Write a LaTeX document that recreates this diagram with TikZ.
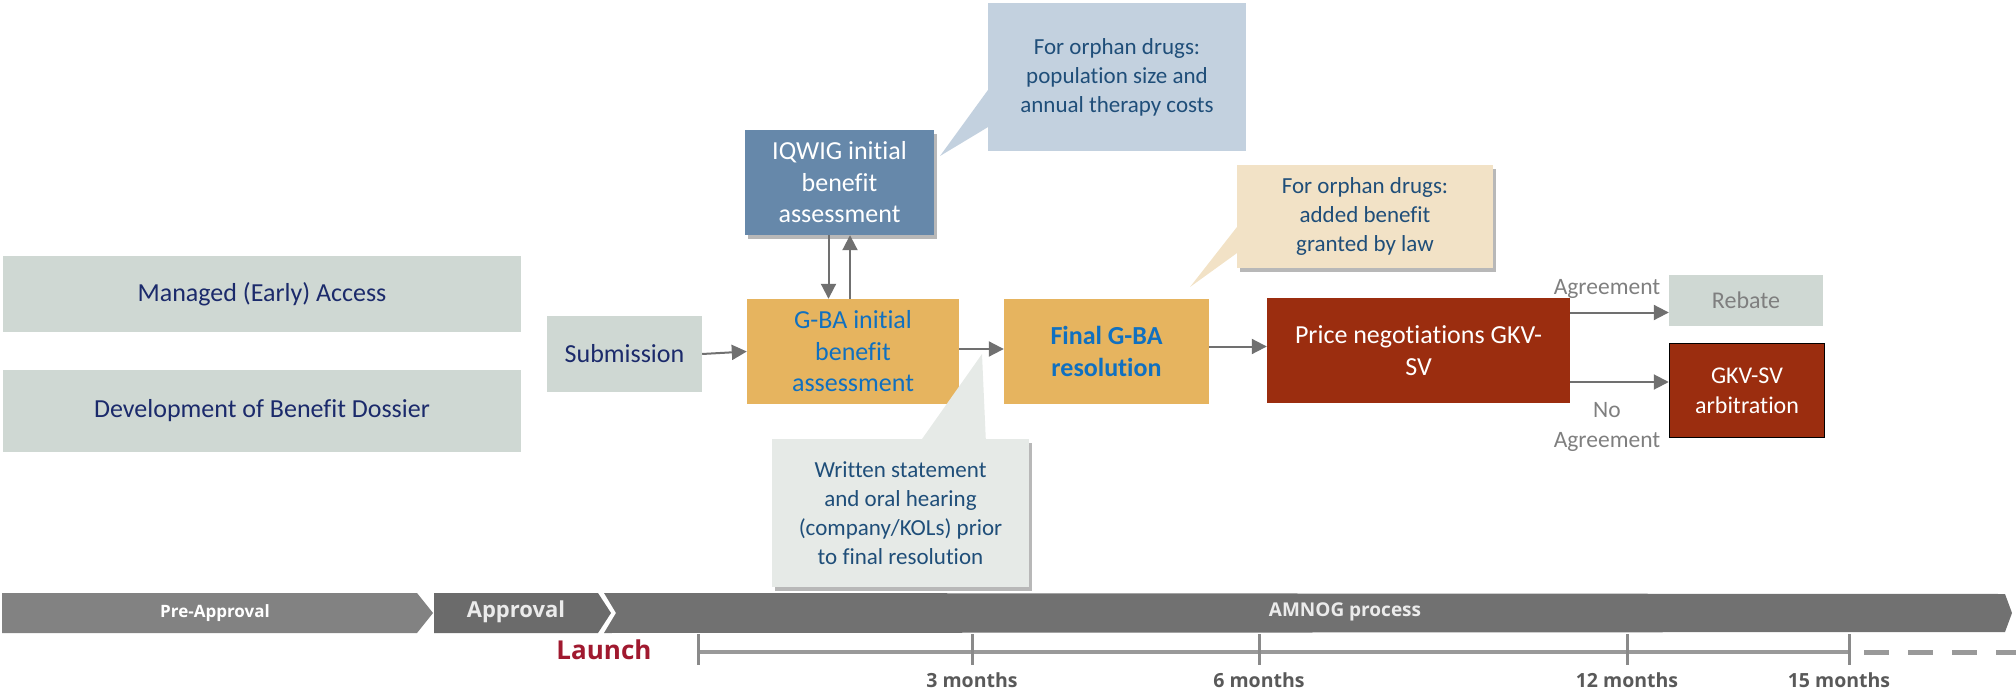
\documentclass[tikz,border=0pt]{standalone}
\usepackage{fontspec}
\setmainfont{Carlito}[Ligatures=NoCommon]
\newfontfamily\tlfont{Open Sans}
\usetikzlibrary{arrows.meta,shadows,calc}
\definecolor{lightbox}{HTML}{CFD8D3}
\definecolor{navytxt}{HTML}{1B2A6B}
\definecolor{orangebox}{HTML}{E6B45F}
\definecolor{bluetxt}{HTML}{1070C0}
\definecolor{iqbox}{HTML}{6688AA}
\definecolor{redbox}{HTML}{9B2D0F}
\definecolor{cbblue}{HTML}{C3D1DF}
\definecolor{calltxt}{HTML}{1F4E79}
\definecolor{beige}{HTML}{F2E2C6}
\definecolor{cgray}{HTML}{E6EAE7}
\definecolor{arrgray}{HTML}{707070}
\definecolor{chpre}{HTML}{828282}
\definecolor{chapp}{HTML}{6B6B6B}
\definecolor{chamn}{HTML}{717171}
\definecolor{axisgray}{HTML}{999999}
\definecolor{monthtxt}{HTML}{595959}
\definecolor{launchred}{HTML}{A0192F}
\definecolor{labgray}{HTML}{7F7F7F}
\begin{document}
\begin{tikzpicture}[x=1pt,y=-1pt,
  box/.style={rectangle,inner sep=0pt,align=center},
  bigfont/.style={font=\fontsize{26}{31.5}\selectfont},
  callfont/.style={font=\fontsize{23}{29}\selectfont,text=calltxt},
  shad/.style={drop shadow={shadow xshift=3pt,shadow yshift=-4pt,fill=black,opacity=.28}},
  arr/.style={draw=arrgray,line width=2pt,-{Triangle[length=15pt,width=15pt]}},
  lab/.style={font=\fontsize{23.5}{28}\selectfont,text=labgray,inner sep=0pt},
  tick/.style={draw=axisgray!90!black,line width=3pt},
  month/.style={font=\tlfont\bfseries\fontsize{19.5}{23}\selectfont,text=monthtxt,inner sep=0pt}
]
\useasboundingbox (0,0) rectangle (2016,690);

% left boxes
\node[box,bigfont,fill=lightbox,text=navytxt,minimum width=518pt,minimum height=76pt] (mea) at (262,294) {Managed (Early) Access};
\node[box,bigfont,fill=lightbox,text=navytxt,minimum width=518pt,minimum height=82pt] (dev) at (262,411) {Development of Benefit Dossier};
\node[box,bigfont,fill=lightbox,text=navytxt,minimum width=155pt,minimum height=76pt] (sub) at (624.5,354) {Submission};

% main process boxes
\node[box,bigfont,fill=orangebox,text=bluetxt,minimum width=212pt,minimum height=105pt] (gba) at (853,351.5) {G-BA initial\\benefit\\assessment};
\node[box,bigfont,fill=iqbox,text=white,minimum width=189pt,minimum height=105pt,shad] (iq) at (839.5,182.5) {IQWIG initial\\benefit\\assessment};
\node[box,bigfont,fill=orangebox,text=bluetxt,minimum width=205pt,minimum height=105pt,font=\fontsize{26}{31.5}\selectfont\bfseries] (fin) at (1106.5,351.5) {Final G-BA\\resolution};
\node[box,bigfont,fill=redbox,text=white,minimum width=303pt,minimum height=105pt] (pn) at (1418.5,350.5) {Price negotiations GKV-\\SV};
\node[box,fill=lightbox,text=labgray,minimum width=154pt,minimum height=51pt,font=\fontsize{24}{29}\selectfont] (rb) at (1746,300.5) {Rebate};
\node[box,fill=redbox,draw=black,line width=1.5pt,text=white,minimum width=155pt,minimum height=94pt,font=\fontsize{24}{30}\selectfont] (arb) at (1747,390.5) {GKV-SV\\arbitration};

% callouts
\coordinate (tipA) at (940,156);
\coordinate (tipB) at (1190,287);
\coordinate (tipC) at (982,354);
\node[box,callfont,fill=cbblue,minimum width=258pt,minimum height=148pt] (cb) at (1117,77) {For orphan drugs:\\population size and\\annual therapy costs};
\fill[cbblue] ([yshift=61pt]cb.south west) -- (tipA) -- ([yshift=24pt]cb.south west) -- cycle;
\node[box,callfont,fill=beige,minimum width=256pt,minimum height=103pt,shad] (cy) at (1365,216.5) {For orphan drugs:\\added benefit\\granted by law};
\fill[beige] ([yshift=41pt]cy.south west) -- (tipB) -- ([yshift=15pt]cy.south west) -- cycle;
\node[box,callfont,fill=cgray,minimum width=257pt,minimum height=148pt,shad] (cg) at (900.5,513) {Written statement\\and oral hearing\\(company/KOLs) prior\\to final resolution};
\fill[cgray] ([xshift=150pt,yshift=-0.5pt]cg.north west) -- (tipC) -- ([xshift=214pt,yshift=-0.5pt]cg.north west) -- cycle;

% connectors
\draw[arr] (sub.east) -- (gba.west);
\draw[arr] ([xshift=-11pt]iq.south) -- ([xshift=-11pt]iq.south |- gba.north);
\draw[arr] ([xshift=-3pt]gba.north) -- ([xshift=-3pt]gba.north |- iq.south);
\draw[arr] ([yshift=2.5pt]gba.east) -- ([yshift=2.5pt]gba.east -| fin.west);
\draw[arr] ([yshift=5pt]fin.east) -- ([yshift=5pt]fin.east -| pn.west);
\draw[arr] ([yshift=38pt]pn.east) -- ([yshift=38pt]pn.east -| rb.west);
\draw[arr] ([yshift=-31.5pt]pn.east) -- ([yshift=-31.5pt]pn.east -| arb.west);
\node[lab] (agr) at (1607,289) {Agreement};
\node[lab,align=center,font=\fontsize{23.5}{30}\selectfont] (noagr) at (1607,427) {No\\Agreement};

% timeline chevrons
\fill[chpre] (2,593) -- (417,593) -- (433,613) -- (417,633) -- (2,633) -- cycle;
\fill[chapp] (434,593) -- (598,593) -- (611,613) -- (598,633) -- (434,633) -- cycle;
\fill[chamn] (604,593) -- (2005,594) -- (2012,613) -- (2005,632) -- (604,633) -- (616,613) -- cycle;
\node[font=\tlfont\bfseries\fontsize{17}{20}\selectfont,text=white,inner sep=0pt] (pre) at (215,613) {Pre-Approval};
\node[font=\tlfont\bfseries\fontsize{22}{26}\selectfont,text=white!92!black,inner sep=0pt] (appr) at (516,612) {Approval};
\node[font=\tlfont\bfseries\fontsize{19}{23}\selectfont,text=white!92!black,inner sep=0pt] (amnog) at (1345,612) {AMNOG process};
\node[font=\tlfont\bfseries\fontsize{26}{30}\selectfont,text=launchred,inner sep=0pt] (launch) at (604,650) {Launch};

% axis
\draw[draw=axisgray,line width=4.5pt] (698,652) -- (1849,652);
\draw[draw=axisgray,line width=5pt,dash pattern=on 25pt off 19pt] (1864,652) -- (2016,652);
\foreach \xx in {698,972,1259,1627,1849} \draw[tick] (\xx,634) -- (\xx,665);
\node[month] (m3) at (972,680) {3 months};
\node[month] (m6) at (1259,680) {6 months};
\node[month] (m12) at (1627,680) {12 months};
\node[month] (m15) at (1839,680) {15 months};
\end{tikzpicture}
\end{document}
